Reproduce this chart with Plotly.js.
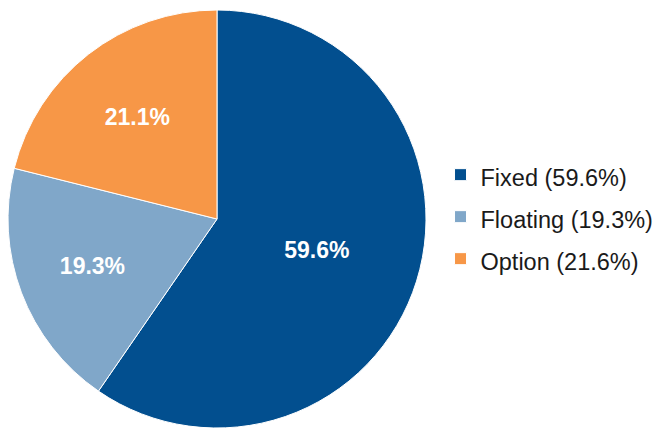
<!DOCTYPE html>
<html>
<head>
<meta charset="utf-8">
<script src="https://cdn.plot.ly/plotly-3.0.1.min.js"></script>
<style>html,body{margin:0;padding:0;background:#fff;}#chart{width:657px;height:429px;}</style>
</head>
<body>
<div id="chart"></div>
<script>
const categories = ['Fixed', 'Floating', 'Option'];
const sliceValues = [59.6, 19.3, 21.1];
const legendPercents = ['59.6%', '19.3%', '21.6%'];
const colors = ['#024f8f', '#80a7c9', '#f79747'];

const sliceText = sliceValues.map(v => v.toFixed(1) + '%');
const legendLabels = categories.map((c, i) =>
  '<span style="font-size:23.5px">' + c + ' (' + legendPercents[i] + ')</span>');

const trace = {
  type: 'pie',
  labels: legendLabels,
  values: sliceValues,
  text: sliceText,
  textinfo: 'text',
  textposition: 'inside',
  insidetextorientation: 'horizontal',
  hoverinfo: 'label+percent',
  sort: false,
  direction: 'clockwise',
  rotation: 0,
  marker: { colors: colors, line: { color: '#ffffff', width: 1 } },
  insidetextfont: { family: 'Liberation Sans, Arial, sans-serif', size: 23, color: '#ffffff', weight: 'bold' },
  domain: { x: [8 / 657, 426 / 657], y: [1 / 429, 419 / 429] },
  automargin: false
};

const layout = {
  width: 657,
  height: 429,
  margin: { l: 0, r: 0, t: 0, b: 0, autoexpand: false },
  paper_bgcolor: '#ffffff',
  showlegend: true,
  legend: {
    x: 0.6705, xanchor: 'left',
    y: 0.495, yanchor: 'middle',
    font: { family: 'Liberation Sans, Arial, sans-serif', size: 30, color: '#1a1a1a' },
    bgcolor: 'rgba(0,0,0,0)'
  }
};

Plotly.newPlot('chart', [trace], layout, { staticPlot: true });
</script>
</body>
</html>
